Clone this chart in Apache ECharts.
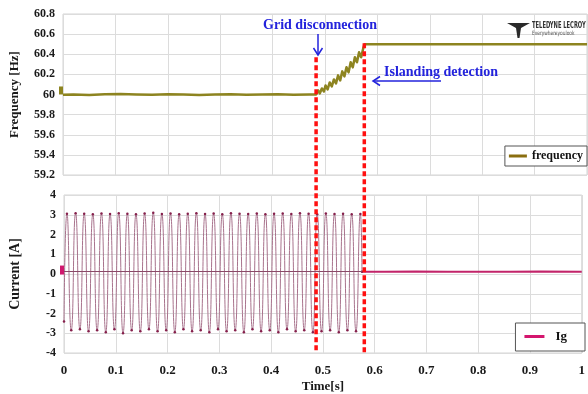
<!DOCTYPE html>
<html>
<head>
<meta charset="utf-8">
<script src="https://cdn.jsdelivr.net/npm/echarts@6/dist/echarts.min.js"></script>
<style>
html, body { margin: 0; padding: 0; background: #fff; }
#main { width: 588px; height: 394px; }
</style>
</head>
<body>
<div id="main"></div>
<script>
// frequency trace [s] / [Hz]
var freqTime = [0, 0.02, 0.05, 0.08, 0.11, 0.14, 0.17, 0.2, 0.23, 0.26, 0.29, 0.32, 0.35, 0.38, 0.41, 0.44, 0.47, 0.483,
	0.487, 0.490, 0.494, 0.498, 0.501, 0.505, 0.509, 0.513, 0.517, 0.521, 0.525, 0.529, 0.533, 0.537, 0.541, 0.545,
	0.549, 0.553, 0.557, 0.561, 0.565, 0.569, 0.573, 0.5755, 0.7, 0.85, 1.0];
var freqValue = [59.998, 60.0, 59.995, 60.002, 60.004, 60.0, 59.997, 60.003, 60.0, 59.996, 60.0, 60.003, 59.997, 60.0, 60.002, 59.997, 60.0, 60.0,
	60.04, 60.01, 60.06, 60.03, 60.09, 60.05, 60.12, 60.08, 60.15, 60.11, 60.19, 60.14, 60.23, 60.18, 60.27, 60.22,
	60.32, 60.27, 60.37, 60.32, 60.42, 60.37, 60.46, 60.5, 60.5, 60.5, 60.5];

// grid current Ig, peaks and troughs
var igTime = [0, 0.0057, 0.0140, 0.0224, 0.0307, 0.0390, 0.0474, 0.0557, 0.0640, 0.0724, 0.0807, 0.0890, 0.0974,
	0.1057, 0.1140, 0.1224, 0.1307, 0.1390, 0.1474, 0.1557, 0.1640, 0.1724, 0.1807, 0.1890, 0.1974,
	0.2057, 0.2140, 0.2224, 0.2307, 0.2390, 0.2474, 0.2557, 0.2640, 0.2724, 0.2807, 0.2890, 0.2974,
	0.3057, 0.3140, 0.3224, 0.3307, 0.3390, 0.3474, 0.3557, 0.3640, 0.3724, 0.3807, 0.3890, 0.3974,
	0.4057, 0.4140, 0.4224, 0.4307, 0.4390, 0.4474, 0.4557, 0.4640, 0.4724, 0.4807, 0.4890, 0.4974,
	0.5057, 0.5140, 0.5224, 0.5307, 0.5390, 0.5474, 0.5557, 0.5640, 0.5724, 0.5755];
var igValue = [-2.4, 3.05, -2.85, 3.08, -2.80, 3.05, -2.90, 3.02, -2.85, 3.06, -2.95, 3.04, -2.80,
	3.08, -3.00, 3.05, -2.85, 3.02, -2.90, 3.06, -2.80, 3.10, -2.90, 3.04, -2.85,
	3.06, -2.95, 3.02, -2.80, 3.05, -2.90, 3.08, -2.85, 3.04, -2.95, 3.06, -2.80,
	3.02, -2.90, 3.08, -2.85, 3.05, -2.95, 3.04, -2.80, 3.06, -2.90, 3.02, -2.85,
	3.05, -2.95, 3.06, -2.80, 3.04, -2.90, 3.08, -2.85, 3.05, -2.95, 3.02, -2.90,
	3.06, -2.85, 3.04, -2.95, 3.05, -2.85, 3.02, -2.90, 3.04, 0.12];
// Ig after the inverter stops
var igOffTime = [0.5755, 0.62, 0.68, 0.74, 0.80, 0.86, 0.92, 1.0];
var igOffValue = [0.12, 0.11, 0.13, 0.11, 0.12, 0.11, 0.13, 0.12];

// events
var cutTime = [0.483, 0.575];
var cutTopFreq = [60.37, 60.51];

function pairs(xs, ys) {
	var out = [];
	for (var i = 0; i < xs.length; i++) {
		out.push([xs[i], ys[i]]);
	}
	return out;
}

var serif = 'Liberation Serif';
var labelStyle = { color: '#1a1a1a', fontFamily: serif, fontWeight: 'bold', fontSize: 12 };
var olive = '#8d8420';

var chart = echarts.init(document.getElementById('main'));
var option = {
	animation: false,
	grid: [
		{ left: 63, right: 1, top: 14, height: 161, show: true, borderColor: '#d4d4d4', borderWidth: 1 },
		{ left: 63, right: 1, top: 195, height: 162, show: true, borderColor: '#d4d4d4', borderWidth: 1 }
	],
	legend: [{
		data: [{ name: 'frequency', itemStyle: { color: '#8a6e10' } }],
		right: 1, top: 146,
		icon: 'rect', itemWidth: 18, itemHeight: 3,
		borderColor: '#555', borderWidth: 1, backgroundColor: '#fff',
		padding: [4, 4, 4, 4],
		textStyle: { color: '#111', fontFamily: serif, fontWeight: 'bold', fontSize: 12 }
	}, {
		data: [{ name: 'Ig', itemStyle: { color: '#d4166e' } }],
		right: 3, top: 323,
		icon: 'rect', itemWidth: 20, itemHeight: 3,
		borderColor: '#555', borderWidth: 1, backgroundColor: '#fff',
		padding: [7, 18, 8, 9],
		textStyle: { color: '#111', fontFamily: serif, fontWeight: 'bold', fontSize: 13, padding: [0, 0, 0, 6] }
	}],
	xAxis: [{
		gridIndex: 0, type: 'value', min: 0, max: 1, interval: 0.1,
		axisLine: { show: false }, axisTick: { show: false }, axisLabel: { show: false },
		splitLine: { lineStyle: { color: '#dcdcdc' } }
	}, {
		gridIndex: 1, type: 'value', min: 0, max: 1, interval: 0.1,
		name: 'Time[s]', nameLocation: 'middle', nameGap: 27,
		nameTextStyle: { color: '#1a1a1a', fontFamily: serif, fontWeight: 'bold', fontSize: 13 },
		axisLine: { show: false }, axisTick: { show: false },
		axisLabel: { margin: 11, color: '#1a1a1a', fontFamily: serif, fontWeight: 'bold', fontSize: 13 },
		splitLine: { lineStyle: { color: '#dcdcdc' } }
	}],
	yAxis: [{
		gridIndex: 0, type: 'value', min: 59.2, max: 60.8, interval: 0.2,
		name: 'Frequency [Hz]', nameLocation: 'middle', nameGap: 42,
		nameTextStyle: { color: '#1a1a1a', fontFamily: serif, fontWeight: 'bold', fontSize: 13 },
		axisLine: { show: false }, axisTick: { show: false },
		axisLabel: labelStyle,
		splitLine: { lineStyle: { color: '#dcdcdc' } }
	}, {
		gridIndex: 1, type: 'value', min: -4, max: 4, interval: 1,
		name: 'Current [A]', nameLocation: 'middle', nameGap: 42,
		nameTextStyle: { color: '#1a1a1a', fontFamily: serif, fontWeight: 'bold', fontSize: 14 },
		axisLine: { show: false }, axisTick: { show: false },
		axisLabel: labelStyle,
		splitLine: { lineStyle: { color: '#dcdcdc' } }
	}],
	series: [{
		name: 'frequency', type: 'line', xAxisIndex: 0, yAxisIndex: 0,
		showSymbol: false, data: pairs(freqTime, freqValue),
		lineStyle: { color: olive, width: 2.5, join: 'round' },
		itemStyle: { color: olive },
		markPoint: {
			silent: true, symbol: 'rect', symbolSize: [4, 8], symbolOffset: [-2, 0],
			itemStyle: { color: olive }, label: { show: false },
			data: [{ coord: [0, 60.04] }]
		}
	}, {
		name: 'Ig', type: 'line', xAxisIndex: 1, yAxisIndex: 1,
		smooth: 0.6, showSymbol: true, symbol: 'circle', symbolSize: 2.5,
		data: pairs(igTime, igValue),
		lineStyle: { color: '#a8728c', width: 1 },
		itemStyle: { color: '#86204c' },
		markLine: {
			silent: true, symbol: 'none', label: { show: false },
			lineStyle: { color: '#8a4a68', width: 1, type: 'solid' },
			data: [[{ coord: [0, 0.12] }, { coord: [0.5755, 0.12] }]]
		},
		markPoint: {
			silent: true, symbol: 'rect', symbolSize: [4, 9], symbolOffset: [-2, 0],
			itemStyle: { color: '#d0186e' }, label: { show: false },
			data: [{ coord: [0, 0.2] }]
		}
	}, {
		name: 'Ig', type: 'line', xAxisIndex: 1, yAxisIndex: 1,
		showSymbol: false, data: pairs(igOffTime, igOffValue),
		lineStyle: { color: '#c2246a', width: 2 },
		itemStyle: { color: '#c2246a' }
	}]
};
chart.setOption(option);

// red dashed event lines, positioned through the axes
var graphics = [];
for (var i = 0; i < cutTime.length; i++) {
	var x = chart.convertToPixel({ xAxisIndex: 0 }, cutTime[i]);
	var y0 = chart.convertToPixel({ yAxisIndex: 0 }, cutTopFreq[i]);
	var y1 = chart.convertToPixel({ yAxisIndex: 1 }, -4);
	graphics.push({
		type: 'line', z: 100,
		shape: { x1: x, y1: y0, x2: x, y2: y1 },
		style: { stroke: '#ff1010', lineWidth: 3.5, lineDash: [5, 3] }
	});
}

var blue = '#2323dc';
graphics.push(
	{ type: 'text', z: 110, style: { text: 'Grid disconnection', x: 320, y: 25, align: 'center', verticalAlign: 'middle',
		fill: blue, font: 'bold 14px "Liberation Serif"' } },
	{ type: 'line', z: 110, shape: { x1: 318, y1: 34, x2: 318, y2: 55 }, style: { stroke: blue, lineWidth: 1.5 } },
	{ type: 'polyline', z: 110, shape: { points: [[313.5, 48], [318, 55], [322.5, 48]] }, style: { stroke: blue, lineWidth: 1.5, fill: null } },
	{ type: 'text', z: 110, style: { text: 'Islanding detection', x: 441, y: 72, align: 'center', verticalAlign: 'middle',
		fill: blue, font: 'bold 14px "Liberation Serif"' } },
	{ type: 'line', z: 110, shape: { x1: 441, y1: 81, x2: 373, y2: 81 }, style: { stroke: blue, lineWidth: 1.5 } },
	{ type: 'polyline', z: 110, shape: { points: [[380, 76.5], [373, 81], [380, 85.5]] }, style: { stroke: blue, lineWidth: 1.5, fill: null } },
	// Teledyne LeCroy mark
	{ type: 'polygon', z: 110, shape: { points: [[507, 23], [530, 23], [521, 28], [519.5, 38], [517.5, 38], [516, 28]] }, style: { fill: '#2a2a2a' } },
	{ type: 'text', z: 110, x: 532, y: 26, scaleX: 0.72, style: { text: 'TELEDYNE LECROY', x: 0, y: 0, verticalAlign: 'middle',
		fill: '#333', font: 'bold 8px "DejaVu Sans Condensed", "DejaVu Sans", sans-serif' } },
	{ type: 'text', z: 110, x: 532, y: 33, scaleX: 0.8, style: { text: 'Everywhereyoulook', x: 0, y: 0, verticalAlign: 'middle',
		fill: '#555', font: '6px "DejaVu Sans Condensed", "DejaVu Sans", sans-serif' } }
);
chart.setOption({ graphic: graphics });
</script>
</body>
</html>
